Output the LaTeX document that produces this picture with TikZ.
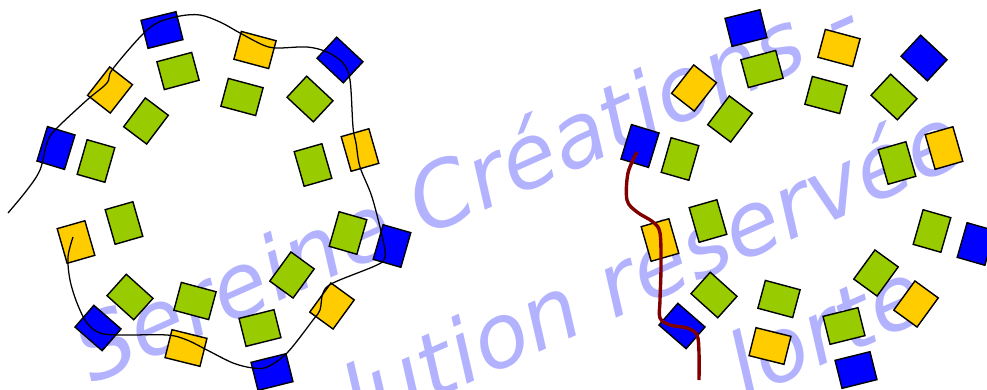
\documentclass[tikz,border=0pt]{standalone}
\usepackage{fontspec}
\newfontfamily\filigrane{DejaVu Sans}
\definecolor{bleu}{RGB}{0,0,255}
\definecolor{jaune}{RGB}{255,204,0}
\definecolor{vert}{RGB}{153,204,0}
\definecolor{bordeaux}{RGB}{128,0,0}
\definecolor{lavande}{RGB}{178,178,255}
\begin{document}
\begin{tikzpicture}[x=0.025cm,y=-0.025cm,
	tuile/.style={draw,line width=1pt,minimum width=0.9cm,minimum height=0.72cm,inner sep=0pt},
	fil/.style={text=lavande,anchor=base west,rotate=24,inner sep=0pt,font=\filigrane\itshape\fontsize{63}{70}\selectfont}]
	\useasboundingbox (0,0) rectangle (987,389);
	\clip (0,0) rectangle (987,389);
	% filigrane
	\node[fil] (fil1) at (92,385) {Sereine Créations -};
	\node[fil] (fil2) at (258,478) {Solution réservée};
	\node[fil] (fil3) at (745,400) {lorte};
	% les deux couronnes de tuiles
	\foreach \dx/\dy/\p in {0/0/g-,584/-2/d-}{
		\begin{scope}[shift={(\dx,\dy)},name prefix=\p]
			\foreach \c/\x/\y/\a/\n in {bleu/162/30/14/b1,jaune/255/50/-15/j1,bleu/340/60/-43/b2,
				jaune/360/150/-74/j2,bleu/392/246/74/b3,jaune/332/306/54/j3,
				bleu/272/372/14/b4,jaune/186/348/-14/j4,bleu/98/328/-41/b5,
				jaune/76/242/-74/j5,bleu/56/148/73/b6,jaune/110/90/52/j6,
				vert/178/71/15/v1,vert/242/97/-15/v2,vert/310/99/-43/v3,
				vert/313/165/-74/v4,vert/348/233/74/v5,vert/292/275/54/v6,
				vert/260/328/14/v7,vert/195/301/-15/v8,vert/130/297/-42/v9,
				vert/124/223/-74/v10,vert/96/161/74/v11,vert/146/121/53/v12}
				\node[tuile,fill=\c,rotate=\a] (\n) at (\x,\y) {};
		\end{scope}
	}
	% fils
	\draw[line width=0.9pt] plot[smooth,tension=0.55] coordinates {(8,213) (27,190) (40,170) (47,143) (55,130) (87,100) (107,83) (112,70) (140,37) (157,23) (180,16) (200,15) (220,22) (240,33) (263,45) (277,48) (307,47) (327,52) (343,63) (350,80) (353,127) (356,143) (360,167) (372,197) (383,240) (385,257) (377,265) (333,283) (323,293) (320,310) (313,320) (287,353) (267,367) (253,368) (233,363) (207,350) (187,340) (167,335) (120,335) (100,333) (87,323) (77,303) (70,280) (68,257) (73,237)};
	\draw[bordeaux,line width=2.4pt] plot[smooth,tension=0.55] coordinates {(637,152) (628,173) (627,200) (637,212) (653,222) (660,233) (661,267) (660,300) (660,318) (670,325) (687,328) (697,335) (699,353) (699,380)};
\end{tikzpicture}
\end{document}
